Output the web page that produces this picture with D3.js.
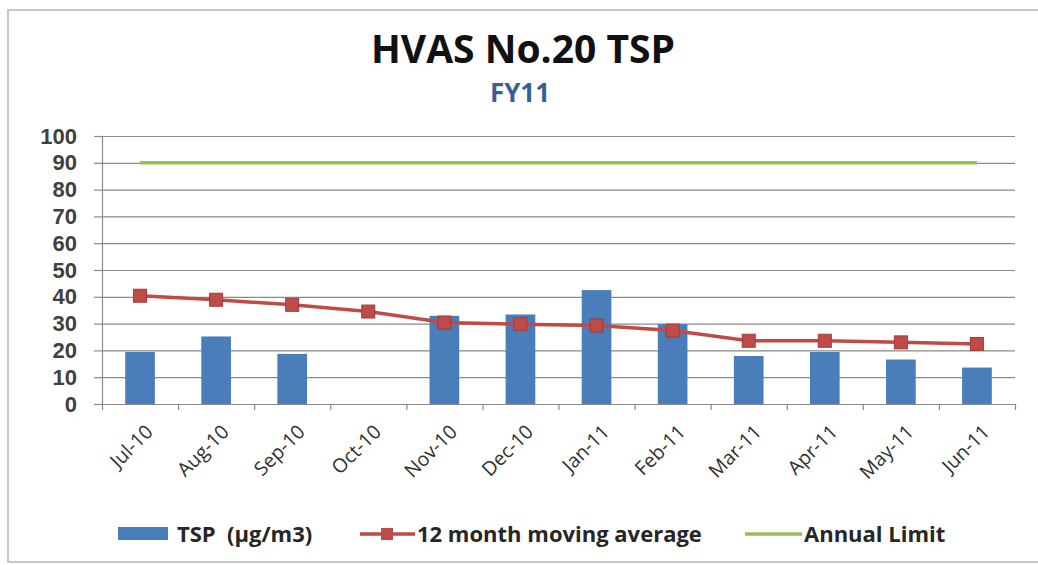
<!DOCTYPE html>
<html>
<head>
<meta charset="utf-8">
<script src="https://cdn.jsdelivr.net/npm/d3@7"></script>
<style>
  body { margin: 0; background: #fff; overflow: hidden; }
  svg { display: block; font-family: "Open Sans", Lato, sans-serif; }
  .grid line { stroke: #8a8a8a; stroke-width: 1.2; }
  .grid path { display: none; }
  .axis path, .axis line { stroke: #8a8a8a; stroke-width: 1.2; }
  .y-label { font-size: 22px; font-weight: bold; fill: #404040; }
  .x-label { font-size: 19.5px; fill: #303030; }
  .legend-text { font-size: 22px; font-weight: bold; fill: #262626; white-space: pre; }
</style>
</head>
<body>
<div id="chart"></div>
<script>
// Data
const months = ['Jul-10', 'Aug-10', 'Sep-10', 'Oct-10', 'Nov-10', 'Dec-10',
  'Jan-11', 'Feb-11', 'Mar-11', 'Apr-11', 'May-11', 'Jun-11']
const tsp = [19.4, 25.2, 18.7, null, 32.9, 33.4, 42.5, 29.8, 17.9, 19.4, 16.6, 13.6]
const movingAvg = [40.4, 38.9, 37.0, 34.5, 30.4, 29.8, 29.3, 27.4, 23.6, 23.6, 23.0, 22.4]
const annualLimit = [90, 90, 90, 90, 90, 90, 90, 90, 90, 90, 90, 90]
const yTicks = [0, 10, 20, 30, 40, 50, 60, 70, 80, 90, 100]

const width = 1038
const height = 565
const margin = { top: 136, right: 23, bottom: 161, left: 102 }
const innerWidth = width - margin.left - margin.right
const innerHeight = height - margin.top - margin.bottom

const colors = { bar: '#4a7ebb', avg: '#be4b48', limit: '#9bbb59' }

const svg = d3.select('#chart')
  .append('svg')
  .attr('width', width)
  .attr('height', height)

// Outer frame (right side runs past the picture, as in the reference)
svg.append('path')
  .attr('d', `M${width},10 H8 V562 H${width}`)
  .attr('fill', 'none')
  .attr('stroke', '#c8c8c8')
  .attr('stroke-width', 2)

// Titles
svg.append('text')
  .attr('x', 523).attr('y', 63)
  .attr('text-anchor', 'middle')
  .style('font-size', '39px').style('font-weight', 'bold').style('fill', '#111')
  .text('HVAS No.20 TSP')

svg.append('text')
  .attr('x', 520).attr('y', 102)
  .attr('text-anchor', 'middle')
  .style('font-size', '26px').style('font-weight', 'bold').style('fill', '#376092')
  .text('FY11')

const g = svg.append('g')
  .attr('transform', `translate(${margin.left}, ${margin.top})`)

// Scales
const xScale = d3.scaleBand().domain(months).range([0, innerWidth])
const xEdge = d3.scaleLinear().domain([0, months.length]).range([0, innerWidth])
const yScale = d3.scaleLinear().domain([0, 100]).range([innerHeight, 0])
const cx = (m) => xScale(m) + xScale.bandwidth() / 2
const barWidth = xScale.bandwidth() * 0.39

// Y gridlines
g.append('g')
  .attr('class', 'grid')
  .call(d3.axisLeft(yScale).tickValues(yTicks).tickSize(-innerWidth).tickFormat(''))

// Left axis
g.append('g')
  .attr('class', 'axis')
  .call(d3.axisLeft(yScale).tickValues(yTicks).tickSize(8).tickSizeOuter(0).tickPadding(17))
  .call(a => a.selectAll('text').attr('class', 'y-label'))

// Bottom axis - ticks at category edges
g.append('g')
  .attr('class', 'axis')
  .attr('transform', `translate(0, ${innerHeight})`)
  .call(d3.axisBottom(xEdge).tickValues(d3.range(months.length + 1)).tickSize(6).tickSizeOuter(0).tickFormat(''))

// Rotated month labels
g.append('g')
  .selectAll('text')
  .data(months)
  .join('text')
  .attr('class', 'x-label')
  .attr('text-anchor', 'end')
  .attr('transform', d => `translate(${cx(d) + 14}, ${innerHeight + 29}) rotate(-45)`)
  .text(d => d)

// Bars
g.append('g')
  .selectAll('rect')
  .data(months.map((m, i) => ({ m, v: tsp[i] })).filter(d => d.v != null))
  .join('rect')
  .attr('x', d => cx(d.m) - barWidth / 2)
  .attr('y', d => yScale(d.v))
  .attr('width', barWidth)
  .attr('height', d => innerHeight - yScale(d.v))
  .attr('fill', colors.bar)

// Annual limit line
const line = d3.line().x(d => cx(d.m)).y(d => yScale(d.v))
g.append('path')
  .datum(months.map((m, i) => ({ m, v: annualLimit[i] })))
  .attr('d', line)
  .attr('fill', 'none')
  .attr('stroke', colors.limit)
  .attr('stroke-width', 3.5)

// Moving average line + markers
const avgData = months.map((m, i) => ({ m, v: movingAvg[i] }))
g.append('path')
  .datum(avgData)
  .attr('d', line)
  .attr('fill', 'none')
  .attr('stroke', colors.avg)
  .attr('stroke-width', 3.5)

g.append('g')
  .selectAll('rect')
  .data(avgData)
  .join('rect')
  .attr('x', d => cx(d.m) - 6.5)
  .attr('y', d => yScale(d.v) - 6.5)
  .attr('width', 13).attr('height', 13)
  .attr('fill', colors.avg)
  .attr('stroke', '#a33b38')
  .attr('stroke-width', 1)

// Legend
const legend = svg.append('g').attr('transform', 'translate(0, 534)')

legend.append('rect')
  .attr('x', 118).attr('y', -7).attr('width', 50).attr('height', 13)
  .attr('fill', colors.bar)
legend.append('text').attr('class', 'legend-text')
  .attr('x', 177).attr('y', 8).text('TSP  (µg/m3)')

legend.append('line')
  .attr('x1', 360).attr('x2', 415).attr('y1', 0).attr('y2', 0)
  .attr('stroke', colors.avg).attr('stroke-width', 3.5)
legend.append('rect')
  .attr('x', 381).attr('y', -6).attr('width', 12).attr('height', 12)
  .attr('fill', colors.avg)
legend.append('text').attr('class', 'legend-text')
  .attr('x', 417).attr('y', 8).text('12 month moving average')

legend.append('line')
  .attr('x1', 745).attr('x2', 802).attr('y1', 0).attr('y2', 0)
  .attr('stroke', colors.limit).attr('stroke-width', 3.5)
legend.append('text').attr('class', 'legend-text')
  .attr('x', 804).attr('y', 8).text('Annual Limit')
</script>
</body>
</html>
